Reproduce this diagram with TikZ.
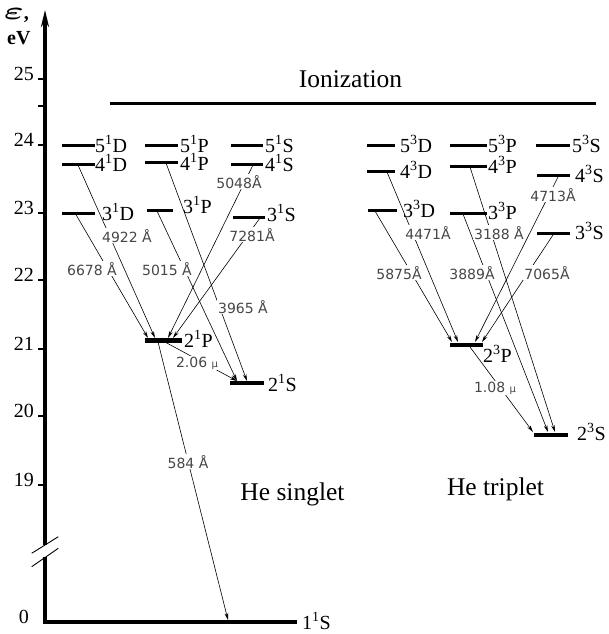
\documentclass[tikz,border=0pt]{standalone}
\usepackage{amsmath}
\usepackage{fontspec}
\setmainfont{Liberation Serif}
\newfontfamily\wavefont{DejaVu Sans}
\usetikzlibrary{arrows.meta}
\tikzset{
  bar/.style={fill=black, draw=none, inner sep=0pt, outer sep=0pt, minimum height=3pt},
  lowbar/.style={bar, minimum height=4.5pt},
  lbl/.style={font=\fontsize{20}{20}\selectfont, anchor=base west, inner sep=0pt},
  wl/.style={font=\wavefont\fontsize{14}{14}\selectfont, text=black!72, fill=white, inner sep=1pt, anchor=base},
  tr/.style={line width=0.6pt, -{Stealth[length=7pt,width=3.6pt]}},
  axisline/.style={line width=4pt},
  tickline/.style={line width=1.3pt},
  axlbl/.style={font=\fontsize{20}{20}\selectfont, anchor=base east, inner sep=0pt},
  bigtxt/.style={font=\fontsize{25.5}{26}\selectfont, anchor=base, inner sep=0pt}
}
\begin{document}
\begin{tikzpicture}[x=1pt,y=-1pt]
\useasboundingbox (0,0) rectangle (608,634);

% axis
\coordinate (axtop) at (45,10);
\coordinate (axbrkU) at (45,545);
\coordinate (axbrkL) at (45,557);
\coordinate (axcorner) at (45,622);
\coordinate (axend) at (297,622);
\draw[axisline, -{Stealth[length=17pt,width=8pt]}] (axbrkU) -- (axtop);
\draw[axisline, line join=miter] (axend) -- (axcorner) -- (axbrkL);
\coordinate (br1a) at (31.7,553.3); \coordinate (br1b) at (58.3,536.7);
\coordinate (br2a) at (31.7,566.7); \coordinate (br2b) at (58.3,548.3);
\draw[line width=0.9pt] (br1a) -- (br1b);
\draw[line width=0.9pt] (br2a) -- (br2b);

% ticks and numbers
\foreach \v/\y in {25/79, 24/145, 23/213, 22/280, 21/349, 20/416, 19/485} {
  \draw[tickline] (38,\y) -- (45,\y);
  \node[axlbl] (n\v) at (34,\y+1) {\v};
}
\draw[tickline] (38,106) -- (45,106);
\node[axlbl] (n0) at (29,623) {0};

% axis title
\node[anchor=base west, inner sep=0pt, font=\fontsize{24}{24}\selectfont] (eps) at (4,19.5)
  {\scalebox{1.5}[1]{$\boldsymbol{\varepsilon}$}{\bfseries\fontsize{20}{20}\selectfont,}};
\node[anchor=base west, inner sep=0pt, font=\bfseries\fontsize{20}{20}\selectfont] (ev) at (7,45) {eV};

% ionization
\coordinate (ionL) at (110,103);
\coordinate (ionR) at (596,103);
\draw[line width=3pt] (ionL) -- (ionR);
\node[bigtxt] (ion) at (350.5,87) {Ionization};

% levels
\foreach \n/\xa/\xb/\y in {D5s/62/95/145, D4s/62/95/164, D3s/62/95/213,
  P5s/145/178/145, P4s/145/178/162, P3s/147/173/210,
  S5s/231/263/145, S4s/231/263/164, S3s/233/265/217,
  D5t/367/395/145, D4t/367/395/171, D3t/368/397/210,
  P5t/450/487/145, P4t/450/487/166, P3t/450/487/213,
  S5t/536/570/145, S4t/537/570/175, S3t/537/570/233} {
  \node[bar, minimum width={(\xb-\xa)*1pt}] (\n) at ({(\xa+\xb)/2},\y) {};
}
\foreach \n/\xa/\xb/\y in {P2s/145/182/340.5, S2s/230/264/383, P2t/450/483/345, S2t/534/568/435} {
  \node[lowbar, minimum width={(\xb-\xa)*1pt}] (\n) at ({(\xa+\xb)/2},\y) {};
}

% transitions
\foreach \nm/\xa/\ya/\xb/\yb in {
  t6678/75/213/148/338, t4922/78/165/155/338, t5015/157/211/237/381,
  t3965/166/163/247/381, t5048/253/165/168/338, t7281/260/218/173/338,
  t206/165/342/237/381, t584/158/342/228/620,
  t5875/375/211/452/342, t4471/387/172/458/342, t3889/463/214/548/432,
  t3188/470/167/555/432, t4713/558/177/475/342, t7065/553/235/482/342,
  t108/470/347/533/432} {
  \coordinate (s\nm) at (\xa,\ya);
  \coordinate (e\nm) at (\xb,\yb);
  \draw[tr] (s\nm) -- (e\nm);
}

% wavelength labels
\node[wl] (w5048) at (239,188) {5048Å};
\node[wl] (w4922) at (127,242) {4922 Å};
\node[wl] (w7281) at (252,241) {7281Å};
\node[wl] (w6678) at (92,275) {6678 Å};
\node[wl] (w5015) at (167,275) {5015 Å};
\node[wl] (w3965) at (243,313) {3965 Å};
\node[wl] (w206) at (197,367) {2.06 {\fontsize{10}{10}\selectfont μ}};
\node[wl] (w584) at (188,468) {584 Å};
\node[wl] (w4713) at (553,201) {4713Å};
\node[wl] (w4471) at (428,239) {4471Å};
\node[wl] (w3188) at (499,239) {3188 Å};
\node[wl] (w5875) at (399,279) {5875Å};
\node[wl] (w3889) at (472,279) {3889Å};
\node[wl] (w7065) at (547,279) {7065Å};
\node[wl] (w108) at (495,392) {1.08 {\fontsize{10}{10}\selectfont μ}};

% level labels
\node[lbl] (l5Ds) at (95,152) {5\textsuperscript{1}D};
\node[lbl] (l4Ds) at (95,171) {4\textsuperscript{1}D};
\node[lbl] (l3Ds) at (102,220) {3\textsuperscript{1}D};
\node[lbl] (l5Ps) at (180,152) {5\textsuperscript{1}P};
\node[lbl] (l4Ps) at (180,170) {4\textsuperscript{1}P};
\node[lbl] (l3Ps) at (183,213) {3\textsuperscript{1}P};
\node[lbl] (l5Ss) at (265,152) {5\textsuperscript{1}S};
\node[lbl] (l4Ss) at (265,171) {4\textsuperscript{1}S};
\node[lbl] (l3Ss) at (267,221) {3\textsuperscript{1}S};
\node[lbl] (l2Ps) at (184,347) {2\textsuperscript{1}P};
\node[lbl] (l2Ss) at (268,391) {2\textsuperscript{1}S};
\node[lbl] (l1Ss) at (302,629.5) {1\textsuperscript{1}S};
\node[lbl] (l5Dt) at (400,152) {5\textsuperscript{3}D};
\node[lbl] (l4Dt) at (400,178) {4\textsuperscript{3}D};
\node[lbl] (l3Dt) at (403,217) {3\textsuperscript{3}D};
\node[lbl] (l5Pt) at (488,152) {5\textsuperscript{3}P};
\node[lbl] (l4Pt) at (488,173) {4\textsuperscript{3}P};
\node[lbl] (l3Pt) at (488,219) {3\textsuperscript{3}P};
\node[lbl] (l5St) at (572,152) {5\textsuperscript{3}S};
\node[lbl] (l4St) at (575,182) {4\textsuperscript{3}S};
\node[lbl] (l3St) at (575,239) {3\textsuperscript{3}S};
\node[lbl] (l2Pt) at (483,362) {2\textsuperscript{3}P};
\node[lbl] (l2St) at (577,440) {2\textsuperscript{3}S};

% titles
\node[bigtxt] (sing) at (292.5,500) {He singlet};
\node[bigtxt] (trip) at (495.5,495) {He triplet};
\end{tikzpicture}
\end{document}
